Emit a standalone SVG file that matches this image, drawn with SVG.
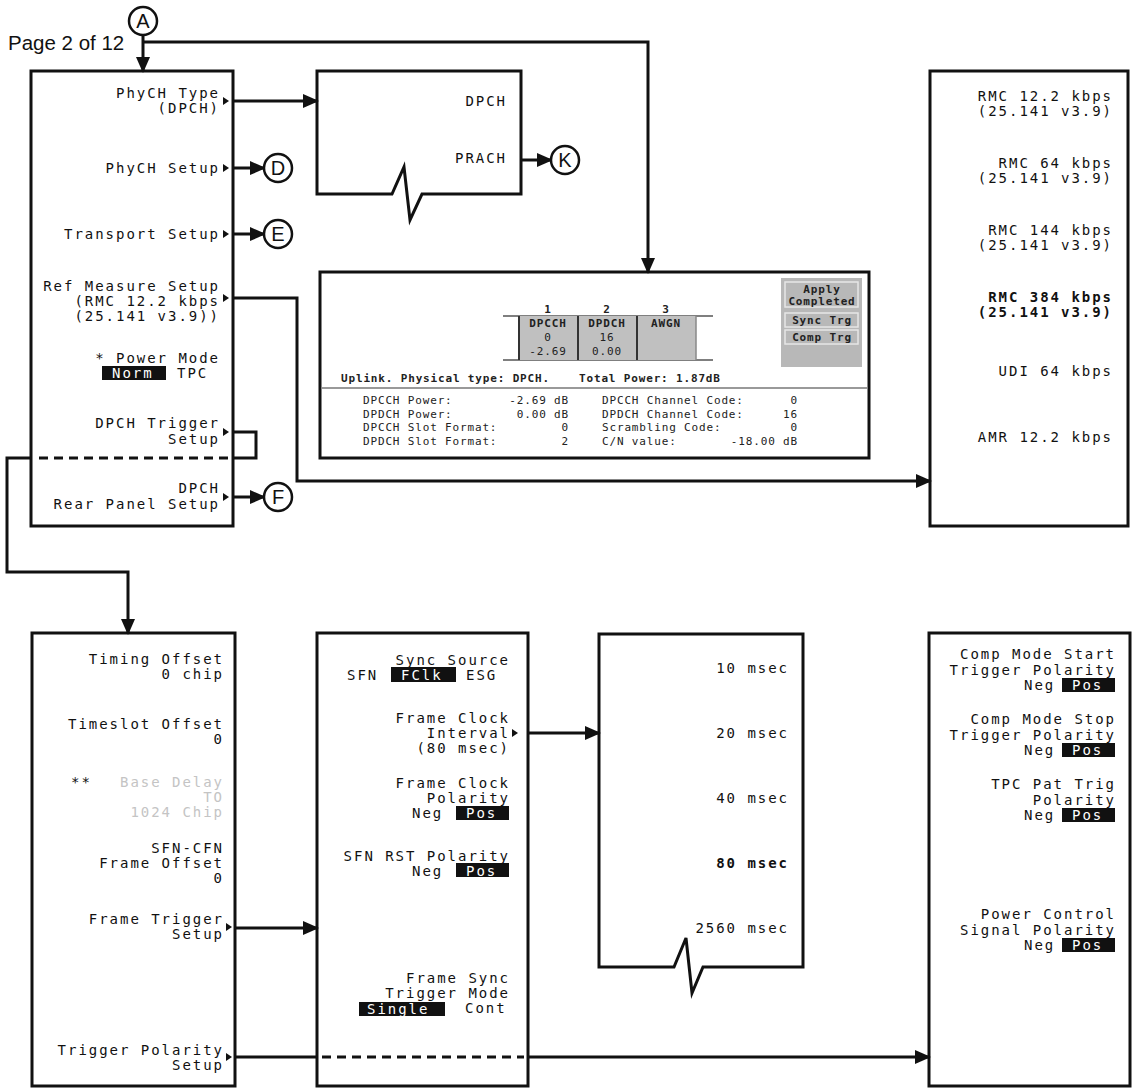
<svg xmlns="http://www.w3.org/2000/svg" width="1132" height="1088" viewBox="0 0 1132 1088">
<defs>
<style>
.box{fill:#fff;stroke:#111;stroke-width:3}
.m{font-family:"DejaVu Sans Mono","Liberation Mono",monospace;font-size:14px;letter-spacing:1.97px;fill:#111}
.e{text-anchor:end}
.mid{text-anchor:middle}
.b{font-weight:bold}
.w{fill:#fff}
.g{fill:#c4c4c4}
.hl{fill:#111}
.tri{fill:#111}
.s{font-family:"DejaVu Sans Mono","Liberation Mono",monospace;font-size:11px;letter-spacing:0.84px;fill:#222}
.cir{fill:#fff;stroke:#111;stroke-width:2.5}
.ct{font-family:"Liberation Sans",Arial,sans-serif;font-size:20px;fill:#111;text-anchor:middle}
.ln{fill:none;stroke:#111;stroke-width:3}
.ar{fill:none;stroke:#111;stroke-width:3;marker-end:url(#ah)}
.da{fill:none;stroke:#111;stroke-width:3;stroke-dasharray:9 6}
</style>
<marker id="ah" markerUnits="userSpaceOnUse" markerWidth="16" markerHeight="14" refX="14" refY="7" orient="auto">
<path d="M0,0 L16,7 L0,14 Z" fill="#111"/>
</marker>
</defs>
<rect width="1132" height="1088" fill="#fff"/>

<text x="8" y="50" font-family="Liberation Sans, Arial, sans-serif" font-size="20.5" fill="#111">Page 2 of 12</text>

<g id="menu-top">
<rect class="box" x="31" y="71" width="202" height="455"/>
<text class="m e" x="220" y="98">PhyCH Type</text>
<text class="m e" x="220" y="113">(DPCH)</text>
<polygon class="tri" points="223,97 229,101 223,105"/>
<text class="m e" x="220" y="173">PhyCH Setup</text>
<polygon class="tri" points="223,164 229,168 223,172"/>
<text class="m e" x="220" y="239">Transport Setup</text>
<polygon class="tri" points="223,230 229,234 223,238"/>
<text class="m e" x="220" y="291">Ref Measure Setup</text>
<text class="m e" x="220" y="306">(RMC 12.2 kbps</text>
<text class="m e" x="220" y="321">(25.141 v3.9))</text>
<polygon class="tri" points="223,294 229,298 223,302"/>
<text class="m e" x="220" y="363">* Power Mode</text>
<rect class="hl" x="102" y="366" width="64" height="14"/>
<text class="m w" x="112" y="378">Norm</text>
<text class="m" x="177" y="378">TPC</text>
<text class="m e" x="220" y="428">DPCH Trigger</text>
<text class="m e" x="220" y="444">Setup</text>
<polygon class="tri" points="223,428 229,432 223,436"/>
<text class="m e" x="220" y="493">DPCH</text>
<text class="m e" x="220" y="509">Rear Panel Setup</text>
<polygon class="tri" points="223,493 229,497 223,501"/>
</g>

<g id="menu-phych-type">
<path class="box" d="M317,71 H521 V194 H422 L410,220 L404,167 L392,194 H317 Z"/>
<text class="m e" x="507" y="106">DPCH</text>
<text class="m e" x="507" y="163">PRACH</text>
</g>

<g id="screen">
<rect class="box" x="320" y="272" width="549" height="186"/>
<line x1="322" y1="388" x2="867" y2="388" stroke="#777" stroke-width="1.5"/>
<line x1="503" y1="316" x2="713" y2="316" stroke="#555" stroke-width="1.5"/>
<line x1="503" y1="360" x2="713" y2="360" stroke="#555" stroke-width="1.5"/>
<rect x="519" y="316" width="177" height="44" fill="#c0c0c0"/>
<line x1="519" y1="316" x2="519" y2="360" stroke="#333" stroke-width="2"/>
<line x1="578" y1="316" x2="578" y2="360" stroke="#333" stroke-width="2"/>
<line x1="637" y1="316" x2="637" y2="360" stroke="#333" stroke-width="2"/>
<line x1="696" y1="316" x2="696" y2="360" stroke="#888" stroke-width="1.5"/>
<text class="s b mid" x="548" y="313">1</text>
<text class="s b mid" x="607" y="313">2</text>
<text class="s b mid" x="666" y="313">3</text>
<text class="s b mid" x="548" y="327">DPCCH</text>
<text class="s mid" x="548" y="341">0</text>
<text class="s mid" x="548" y="355">-2.69</text>
<text class="s b mid" x="607" y="327">DPDCH</text>
<text class="s mid" x="607" y="341">16</text>
<text class="s mid" x="607" y="355">0.00</text>
<text class="s b mid w" x="666" y="327">AWGN</text>
<text class="s b" x="341" y="382">Uplink. Physical type: DPCH.</text>
<text class="s b" x="579" y="382">Total Power: 1.87dB</text>
<rect x="781" y="278" width="81" height="89" fill="#b8b8b8"/>
<rect x="785" y="282" width="73" height="25" fill="#b8b8b8" stroke="#e6e6e6" stroke-width="1.5"/>
<rect x="785" y="313" width="73" height="14" fill="#b8b8b8" stroke="#e6e6e6" stroke-width="1.5"/>
<rect x="785" y="330" width="73" height="14" fill="#b8b8b8" stroke="#e6e6e6" stroke-width="1.5"/>
<text class="s b mid w" x="822" y="293" font-size="10px">Apply</text>
<text class="s b mid w" x="822" y="305" font-size="10px">Completed</text>
<text class="s b mid w" x="822" y="324" font-size="10px">Sync Trg</text>
<text class="s b mid w" x="822" y="341" font-size="10px">Comp Trg</text>
<text class="s" x="363" y="404">DPCCH Power:</text>
<text class="s e" x="569" y="404">-2.69 dB</text>
<text class="s" x="363" y="418">DPDCH Power:</text>
<text class="s e" x="569" y="418">0.00 dB</text>
<text class="s" x="363" y="431">DPCCH Slot Format:</text>
<text class="s e" x="569" y="431">0</text>
<text class="s" x="363" y="445">DPDCH Slot Format:</text>
<text class="s e" x="569" y="445">2</text>
<text class="s" x="602" y="404">DPCCH Channel Code:</text>
<text class="s e" x="798" y="404">0</text>
<text class="s" x="602" y="418">DPDCH Channel Code:</text>
<text class="s e" x="798" y="418">16</text>
<text class="s" x="602" y="431">Scrambling Code:</text>
<text class="s e" x="798" y="431">0</text>
<text class="s" x="602" y="445">C/N value:</text>
<text class="s e" x="798" y="445">-18.00 dB</text>
</g>

<g id="menu-rmc">
<rect class="box" x="930" y="71" width="198" height="455"/>
<text class="m e" x="1113" y="101">RMC 12.2 kbps</text>
<text class="m e" x="1113" y="116">(25.141 v3.9)</text>
<text class="m e" x="1113" y="168">RMC 64 kbps</text>
<text class="m e" x="1113" y="183">(25.141 v3.9)</text>
<text class="m e" x="1113" y="235">RMC 144 kbps</text>
<text class="m e" x="1113" y="250">(25.141 v3.9)</text>
<text class="m e b" x="1113" y="302">RMC 384 kbps</text>
<text class="m e b" x="1113" y="317">(25.141 v3.9)</text>
<text class="m e" x="1113" y="376">UDI 64 kbps</text>
<text class="m e" x="1113" y="442">AMR 12.2 kbps</text>
</g>

<g id="menu-dpch-trigger">
<rect class="box" x="32" y="633" width="203" height="453"/>
<text class="m e" x="224" y="664">Timing Offset</text>
<text class="m e" x="224" y="679">0 chip</text>
<text class="m e" x="224" y="729">Timeslot Offset</text>
<text class="m e" x="224" y="744">0</text>
<text class="m" x="71" y="787">**</text>
<text class="m e g" x="224" y="787">Base Delay</text>
<text class="m e g" x="224" y="802">TO</text>
<text class="m e g" x="224" y="817">1024 Chip</text>
<text class="m e" x="224" y="853">SFN-CFN</text>
<text class="m e" x="224" y="868">Frame Offset</text>
<text class="m e" x="224" y="883">0</text>
<text class="m e" x="224" y="924">Frame Trigger</text>
<text class="m e" x="224" y="939">Setup</text>
<polygon class="tri" points="226,923 232,927 226,931"/>
<text class="m e" x="224" y="1055">Trigger Polarity</text>
<text class="m e" x="224" y="1070">Setup</text>
<polygon class="tri" points="226,1053 232,1057 226,1061"/>
</g>

<g id="menu-frame-trigger">
<rect class="box" x="317" y="633" width="211" height="453"/>
<text class="m e" x="510" y="665">Sync Source</text>
<text class="m" x="347" y="680">SFN</text>
<rect class="hl" x="391" y="667" width="65" height="15"/>
<text class="m w" x="401" y="680">FClk</text>
<text class="m" x="466" y="680">ESG</text>
<text class="m e" x="510" y="723">Frame Clock</text>
<text class="m e" x="510" y="738">Interval</text>
<text class="m e" x="510" y="753">(80 msec)</text>
<polygon class="tri" points="512,729 518,733 512,737"/>
<text class="m e" x="510" y="788">Frame Clock</text>
<text class="m e" x="510" y="803">Polarity</text>
<text class="m" x="412" y="818">Neg</text>
<rect class="hl" x="456" y="806" width="53" height="14"/>
<text class="m w" x="466" y="818">Pos</text>
<text class="m e" x="510" y="861">SFN RST Polarity</text>
<text class="m" x="412" y="876">Neg</text>
<rect class="hl" x="456" y="863" width="53" height="14"/>
<text class="m w" x="466" y="876">Pos</text>
<text class="m e" x="510" y="983">Frame Sync</text>
<text class="m e" x="510" y="998">Trigger Mode</text>
<rect class="hl" x="359" y="1002" width="86" height="14"/>
<text class="m w" x="367" y="1014">Single</text>
<text class="m" x="465" y="1013">Cont</text>
</g>

<g id="menu-interval">
<path class="box" d="M599,634 H803 V967 H703 L692,993 L686,938 L674,967 H599 Z"/>
<text class="m e" x="789" y="673">10 msec</text>
<text class="m e" x="789" y="738">20 msec</text>
<text class="m e" x="789" y="803">40 msec</text>
<text class="m e b" x="789" y="868">80 msec</text>
<text class="m e" x="789" y="933">2560 msec</text>
</g>

<g id="menu-trigger-polarity">
<rect class="box" x="929" y="633" width="201" height="453"/>
<text class="m e" x="1116" y="659">Comp Mode Start</text>
<text class="m e" x="1116" y="675">Trigger Polarity</text>
<text class="m" x="1024" y="690">Neg</text>
<rect class="hl" x="1062" y="678" width="53" height="14"/>
<text class="m w" x="1072" y="690">Pos</text>
<text class="m e" x="1116" y="724">Comp Mode Stop</text>
<text class="m e" x="1116" y="740">Trigger Polarity</text>
<text class="m" x="1024" y="755">Neg</text>
<rect class="hl" x="1062" y="743" width="53" height="14"/>
<text class="m w" x="1072" y="755">Pos</text>
<text class="m e" x="1116" y="789">TPC Pat Trig</text>
<text class="m e" x="1116" y="805">Polarity</text>
<text class="m" x="1024" y="820">Neg</text>
<rect class="hl" x="1062" y="808" width="53" height="14"/>
<text class="m w" x="1072" y="820">Pos</text>
<text class="m e" x="1116" y="919">Power Control</text>
<text class="m e" x="1116" y="935">Signal Polarity</text>
<text class="m" x="1024" y="950">Neg</text>
<rect class="hl" x="1062" y="938" width="53" height="14"/>
<text class="m w" x="1072" y="950">Pos</text>
</g>

<g id="connectors">
<line class="ar" x1="143" y1="35" x2="143" y2="71"/>
<polyline class="ar" points="143,42 648,42 648,272"/>
<line class="ar" x1="233" y1="101" x2="317" y2="101"/>
<line class="ar" x1="233" y1="168" x2="264" y2="168"/>
<line class="ar" x1="233" y1="234" x2="264" y2="234"/>
<line class="ar" x1="233" y1="497" x2="264" y2="497"/>
<line class="ar" x1="521" y1="160" x2="551" y2="160"/>
<polyline class="ar" points="233,298 297,298 297,481 930,481"/>
<polyline class="ln" points="233,432 256,432 256,458 233,458"/>
<line class="da" x1="228" y1="458" x2="33" y2="458"/>
<polyline class="ar" points="31,458 7,458 7,572 128,572 128,633"/>
<line class="ar" x1="235" y1="928" x2="317" y2="928"/>
<line class="ar" x1="528" y1="733" x2="599" y2="733"/>
<line class="ln" x1="235" y1="1057" x2="317" y2="1057"/>
<line class="da" x1="322" y1="1057" x2="524" y2="1057"/>
<line class="ar" x1="528" y1="1057" x2="929" y2="1057"/>
</g>

<g id="ref-A"><circle class="cir" cx="143" cy="21" r="14"/><text class="ct" x="143" y="28">A</text></g>
<g id="ref-D"><circle class="cir" cx="278" cy="168" r="14"/><text class="ct" x="278" y="175">D</text></g>
<g id="ref-E"><circle class="cir" cx="278" cy="234" r="14"/><text class="ct" x="278" y="241">E</text></g>
<g id="ref-F"><circle class="cir" cx="278" cy="497" r="14"/><text class="ct" x="278" y="504">F</text></g>
<g id="ref-K"><circle class="cir" cx="565" cy="160" r="14"/><text class="ct" x="565" y="167">K</text></g>
</svg>
